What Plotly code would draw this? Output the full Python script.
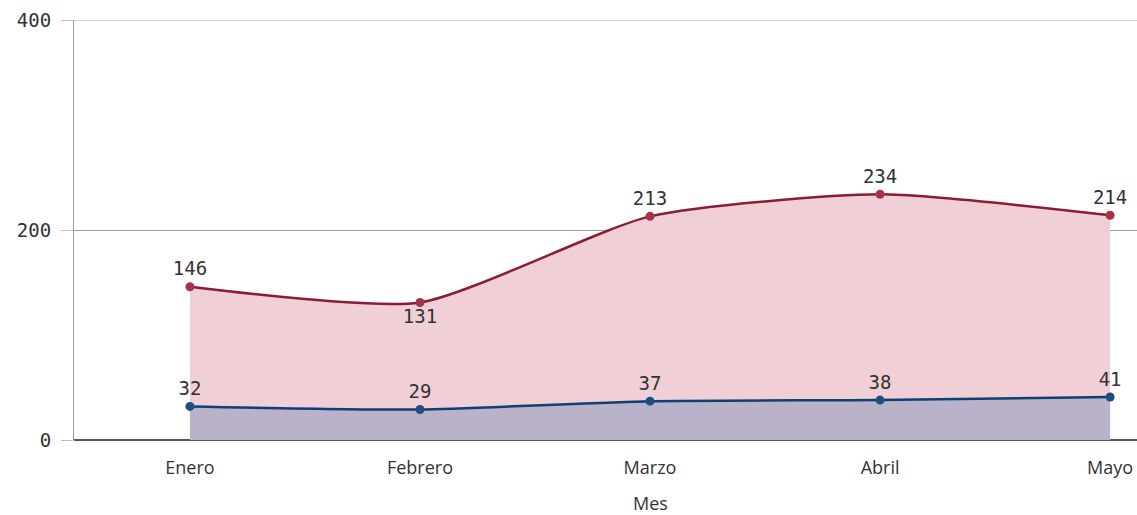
import plotly.graph_objects as go

meses = ["Enero", "Febrero", "Marzo", "Abril", "Mayo"]
serie_roja = [146, 131, 213, 234, 214]
serie_azul = [32, 29, 37, 38, 41]
pos_roja = ["top center", "bottom center", "top center", "top center", "top center"]
y_ticks = [0, 200, 400]
titulo_x = "Mes"

x_idx = list(range(len(meses)))

fig = go.Figure()
fig.add_trace(go.Scatter(
    x=x_idx, y=serie_roja, mode="lines+markers+text",
    line=dict(color="#8B1C32", width=2.5, shape="spline", smoothing=0.6),
    marker=dict(size=9, color="#A3354A"),
    fill="tozeroy", fillcolor="#F0D0D6",
    text=[str(v) for v in serie_roja], textposition=pos_roja,
    textfont=dict(family="DejaVu Sans Mono", size=19, color="#333333"),
    cliponaxis=False, showlegend=False, hoverinfo="skip",
))
fig.add_trace(go.Scatter(
    x=x_idx, y=serie_azul, mode="lines+markers+text",
    line=dict(color="#0F3F73", width=2.5, shape="spline", smoothing=0.6),
    marker=dict(size=9, color="#1D4F82"),
    fill="tozeroy", fillcolor="#B9B2C9",
    text=[str(v) for v in serie_azul], textposition="top center",
    textfont=dict(family="DejaVu Sans Mono", size=19, color="#333333"),
    cliponaxis=False, showlegend=False, hoverinfo="skip",
))

# top gridline (at max tick) drawn explicitly since Plotly omits it at the range edge
fig.add_shape(type="line", xref="paper", x0=0, x1=1, yref="y",
              y0=y_ticks[-1], y1=y_ticks[-1],
              line=dict(color="#A0A0A0", width=1), layer="below")

# axis title centred under the category span
fig.add_annotation(text=titulo_x, xref="x", x=(len(meses) - 1) / 2,
                   yref="paper", y=-0.15, yanchor="middle", showarrow=False,
                   font=dict(family="Open Sans", size=18, color="#333333"))

fig.update_layout(
    width=1137, height=515,
    margin=dict(l=74, r=0, t=20, b=75),
    plot_bgcolor="white", paper_bgcolor="white",
)
fig.update_xaxes(
    tickmode="array", tickvals=x_idx, ticktext=meses,
    range=[-0.504, 4.117], showgrid=False, zeroline=False, automargin=False,
    showline=False, ticks="outside", ticklen=11, tickcolor="rgba(0,0,0,0)",
    tickfont=dict(family="Open Sans", size=18, color="#333333"),
)
fig.update_yaxes(
    tickmode="array", tickvals=y_ticks, range=[0, 400], automargin=False,
    showgrid=True, gridcolor="#A0A0A0", gridwidth=1,
    zeroline=True, zerolinecolor="#555555", zerolinewidth=2,
    showline=True, linecolor="#A0A0A0", linewidth=1,
    ticks="outside", ticklen=12, tickcolor="#C0C0C0",
    ticklabelstandoff=6,
    tickfont=dict(family="DejaVu Sans Mono", size=19, color="#333333"),
)

fig.write_html(
    "out.html",
    config={"displayModeBar": False},
    post_script="document.body.style.margin='0';document.body.style.overflow='hidden';",
)
